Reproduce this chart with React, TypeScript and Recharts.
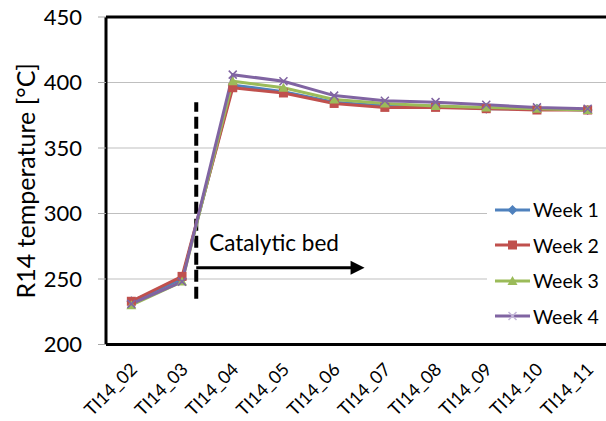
import React from 'react';
import {
    LineChart,
    Line,
    XAxis,
    YAxis,
    CartesianGrid,
    ReferenceLine,
    Legend,
} from 'recharts';

// Thermocouple positions along the reactor
const sensors = [
    'TI14_02', 'TI14_03', 'TI14_04', 'TI14_05', 'TI14_06',
    'TI14_07', 'TI14_08', 'TI14_09', 'TI14_10', 'TI14_11',
];

// Temperatures per week, °C
const week1 = [233, 250, 398, 393, 385, 382, 382, 380, 380, 379];
const week2 = [233, 252, 396, 392, 384, 381, 381, 380, 379, 379];
const week3 = [230, 248, 401, 396, 387, 384, 382, 381, 380, 379];
const week4 = [231, 248, 406, 401, 390, 386, 385, 383, 381, 380];

const yTicks = [200, 250, 300, 350, 400, 450];
// category boundaries, used for the tick marks between sensor labels
const edgeTicks = [0, 1, 2, 3, 4, 5, 6, 7, 8, 9, 10];

// start of the catalytic bed (in sensor slots) and the arrow drawn into it
const bedStart = 1.78;
const bedArrowEnd = 5.1;
const bedArrowLevel = 258.5;
const dividerLow = 235;
const dividerHigh = 385;

const data = sensors.map((name, i) => ({
    name,
    slot: i,
    week1: week1[i],
    week2: week2[i],
    week3: week3[i],
    week4: week4[i],
}));

type MarkerShape = 'diamond' | 'square' | 'triangle' | 'cross';

const series: { key: string; name: string; color: string; marker: MarkerShape; legendMarker?: string }[] = [
    { key: 'week1', name: 'Week 1', color: '#4F81BD', marker: 'diamond' },
    { key: 'week2', name: 'Week 2', color: '#C0504D', marker: 'square' },
    { key: 'week3', name: 'Week 3', color: '#9BBB59', marker: 'triangle' },
    { key: 'week4', name: 'Week 4', color: '#8064A2', marker: 'cross', legendMarker: '#C3B5D8' },
];

const Marker = ({ shape, cx, cy, color }: { shape: MarkerShape; cx: number; cy: number; color: string }) => {
    if (cx == null || cy == null) return null;
    switch (shape) {
        case 'diamond':
            return <polygon points={`${cx},${cy - 5} ${cx + 5},${cy} ${cx},${cy + 5} ${cx - 5},${cy}`} fill={color} />;
        case 'square':
            return <rect x={cx - 4.5} y={cy - 4.5} width={9} height={9} fill={color} />;
        case 'triangle':
            return <polygon points={`${cx},${cy - 5} ${cx + 5},${cy + 4} ${cx - 5},${cy + 4}`} fill={color} />;
        default:
            return (
                <path
                    d={`M${cx - 4},${cy - 4}L${cx + 4},${cy + 4}M${cx - 4},${cy + 4}L${cx + 4},${cy - 4}`}
                    stroke={color}
                    strokeWidth={1.5}
                    fill="none"
                />
            );
    }
};

const SensorTick = (props: any) => {
    const { x, y, payload } = props;
    return (
        <text
            x={x + 7}
            y={y + 18}
            transform={`rotate(-45, ${x + 7}, ${y + 18})`}
            textAnchor="end"
            fontSize={18}
            fill="#000"
        >
            {payload.value}
        </text>
    );
};

const BedArrow = (props: any) => {
    const { x1, y1, x2, y2 } = props;
    return (
        <g>
            <line x1={x1} y1={y1} x2={x2 - 12} y2={y2} stroke="#000" strokeWidth={3} />
            <polygon points={`${x2},${y2} ${x2 - 14},${y2 - 7} ${x2 - 14},${y2 + 7}`} fill="#000" />
            <text x={x1 + 13} y={y1 - 17} fontSize={22.5} fill="#000">
                Catalytic bed
            </text>
        </g>
    );
};

const WeekLegend = () => (
    <div style={{ background: '#fff' }}>
        {series.map((s) => (
            <div key={s.key} style={{ display: 'flex', alignItems: 'center', height: 35.5 }}>
                <svg width={46} height={20}>
                    <line x1={8} y1={10} x2={43} y2={10} stroke={s.color} strokeWidth={3} />
                    <Marker shape={s.marker} cx={25.5} cy={10} color={s.legendMarker ?? s.color} />
                </svg>
                <span style={{ fontSize: 19.5, color: '#000' }}>{s.name}</span>
            </div>
        ))}
    </div>
);

export default function App() {
    return (
        <div
            style={{
                position: 'absolute',
                left: 0,
                top: 0,
                width: 606,
                height: 421,
                overflow: 'hidden',
                background: '#fff',
                fontFamily: 'Lato, sans-serif',
            }}
        >
            <LineChart width={620} height={421} data={data} margin={{ top: 17, right: 7, left: 0, bottom: 0 }}>
                <CartesianGrid vertical={false} stroke="#BFBFBF" strokeWidth={1} />
                <XAxis
                    xAxisId="edges"
                    dataKey="slot"
                    type="number"
                    domain={[0, 10]}
                    allowDataOverflow
                    ticks={edgeTicks}
                    tick={false}
                    tickSize={6}
                    tickLine={{ stroke: '#A6A6A6' }}
                    axisLine={false}
                    height={0}
                />
                <XAxis
                    dataKey="name"
                    padding={{ left: 25.35, right: 25.35 }}
                    tickLine={false}
                    tick={<SensorTick />}
                    axisLine={{ stroke: '#000', strokeWidth: 3 }}
                    interval={0}
                    height={76.5}
                />
                <YAxis
                    domain={[200, 450]}
                    ticks={yTicks}
                    width={106}
                    tickSize={8}
                    tickMargin={16}
                    tickLine={{ stroke: '#A6A6A6' }}
                    axisLine={{ stroke: '#000', strokeWidth: 3 }}
                    tick={{ fontSize: 22, fill: '#000' }}
                    label={{
                        value: 'R14 temperature [°C]',
                        angle: -90,
                        position: 'insideLeft',
                        offset: 26,
                        style: { textAnchor: 'middle', fontSize: 25, fill: '#000' },
                    }}
                />
                <ReferenceLine y={450} stroke="#000" strokeWidth={3} />
                <ReferenceLine
                    xAxisId="edges"
                    segment={[
                        { x: bedStart, y: dividerLow },
                        { x: bedStart, y: dividerHigh },
                    ]}
                    stroke="#000"
                    strokeWidth={4}
                    strokeDasharray="12 5"
                />
                <ReferenceLine
                    xAxisId="edges"
                    segment={[
                        { x: bedStart, y: bedArrowLevel },
                        { x: bedArrowEnd, y: bedArrowLevel },
                    ]}
                    shape={<BedArrow />}
                />
                {series.map((s) => (
                    <Line
                        key={s.key}
                        dataKey={s.key}
                        name={s.name}
                        stroke={s.color}
                        strokeWidth={3}
                        isAnimationActive={false}
                        dot={(p: any) => (
                            <Marker key={`${s.key}-${p.index}`} shape={s.marker} cx={p.cx} cy={p.cy} color={s.color} />
                        )}
                        activeDot={false}
                    />
                ))}
                <Legend
                    layout="vertical"
                    align="center"
                    verticalAlign="middle"
                    content={<WeekLegend />}
                    wrapperStyle={{ left: 487, top: 192, width: 130, height: 142 }}
                />
            </LineChart>
        </div>
    );
}
